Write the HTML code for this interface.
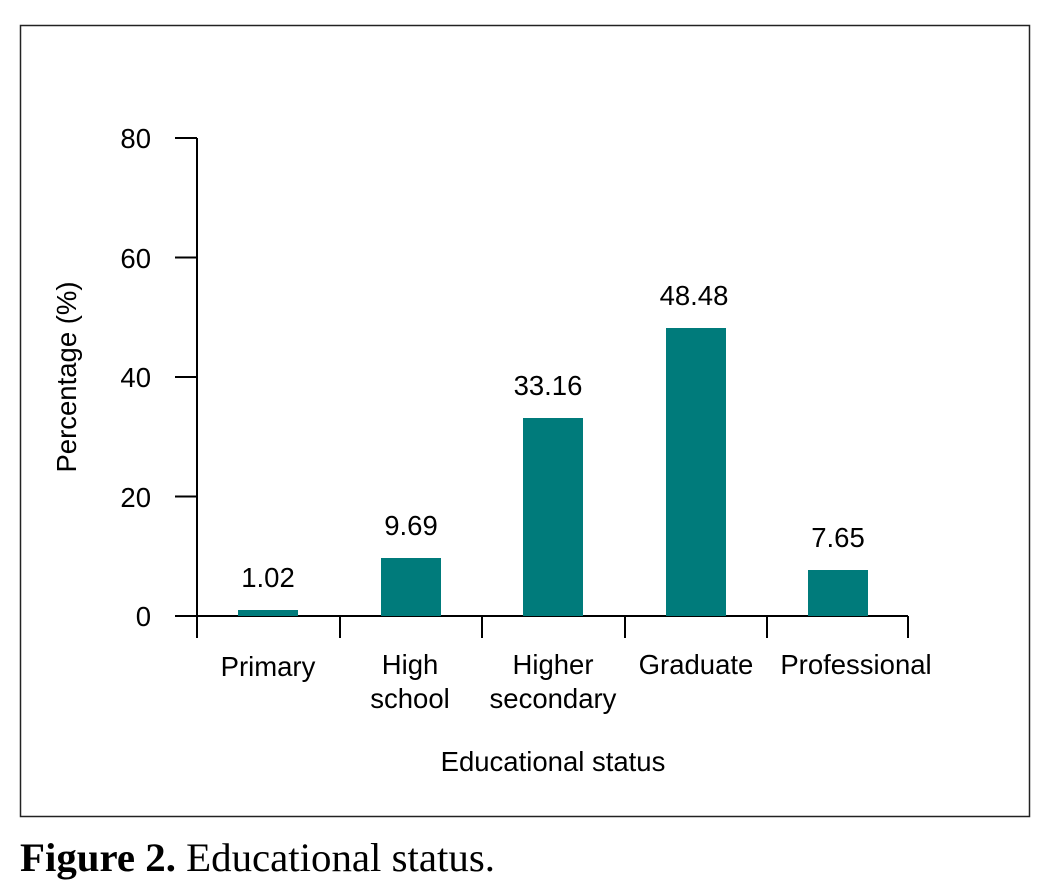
<!DOCTYPE html>
<html><head><style>
body{margin:0;background:#fff;width:1039px;height:892px;overflow:hidden}
</style></head><body>
<svg width="1039" height="892" xmlns="http://www.w3.org/2000/svg" style="position:absolute;left:0;top:0">
<rect x="20.5" y="25.5" width="1009" height="791" fill="none" stroke="#222" stroke-width="1.5"/>
<g stroke="#000" stroke-width="2" fill="none">
<line x1="197" y1="138" x2="197" y2="638"/>
<line x1="175" y1="616" x2="908" y2="616"/>
<line x1="175" y1="138" x2="197" y2="138"/>
<line x1="175" y1="257.5" x2="197" y2="257.5"/>
<line x1="175" y1="377" x2="197" y2="377"/>
<line x1="175" y1="496.5" x2="197" y2="496.5"/>
<line x1="340" y1="616" x2="340" y2="638"/>
<line x1="482" y1="616" x2="482" y2="638"/>
<line x1="625" y1="616" x2="625" y2="638"/>
<line x1="767" y1="616" x2="767" y2="638"/>
<line x1="908" y1="616" x2="908" y2="638"/>
</g>
<g fill="#007B7B">
<rect x="238" y="610" width="60" height="6"/>
<rect x="381" y="558" width="60" height="58"/>
<rect x="523" y="418" width="60" height="198"/>
<rect x="666" y="328" width="60" height="288"/>
<rect x="808" y="570" width="60" height="46"/>
</g>
<g font-family="Liberation Sans, Arial, sans-serif" font-size="27.5" fill="#000">
<g text-anchor="end">
<text x="151" y="148">80</text>
<text x="151" y="268">60</text>
<text x="151" y="387">40</text>
<text x="151" y="507">20</text>
<text x="151" y="626">0</text>
</g>
<g text-anchor="middle">
<text x="268" y="587">1.02</text>
<text x="411" y="535">9.69</text>
<text x="548" y="395">33.16</text>
<text x="694" y="305">48.48</text>
<text x="838" y="547">7.65</text>
<text x="268" y="676">Primary</text>
<text x="410" y="674">High</text>
<text x="410" y="708">school</text>
<text x="553" y="674">Higher</text>
<text x="553" y="708">secondary</text>
<text x="696" y="674">Graduate</text>
<text x="856" y="674">Professional</text>
<text x="553" y="771">Educational status</text>
<text transform="translate(76,377) rotate(-90)">Percentage (%)</text>
</g>
</g>
<text x="20" y="871" font-family="Liberation Serif, serif" font-size="40" fill="#000" textLength="475" lengthAdjust="spacingAndGlyphs"><tspan font-weight="bold">Figure 2.</tspan> Educational status.</text>
</svg>
</body></html>
